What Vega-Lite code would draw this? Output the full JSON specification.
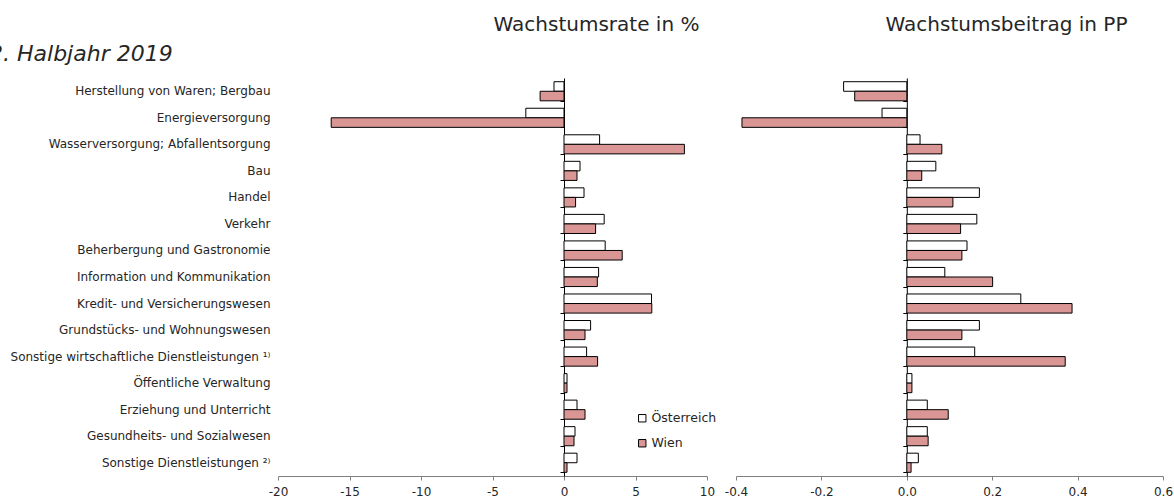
{
  "$schema": "https://vega.github.io/schema/vega-lite/v6.json",
  "padding": {"left": -11, "top": 15, "right": 0, "bottom": 0},
  "config": {
    "font": "DejaVu Sans",
    "view": {"stroke": null},
    "axis": {"grid": false, "labelColor": "#262626", "labelFont": "DejaVu Sans"}
  },
  "title": {
    "text": "2. Halbjahr 2019",
    "anchor": "start",
    "frame": "bounds",
    "fontSize": 22,
    "fontStyle": "italic",
    "fontWeight": "normal",
    "color": "#262626",
    "baseline": "alphabetic",
    "offset": 0,
    "dx": -21,
    "dy": 68
  },
  "datasets": {
    "gva": [
      {"sector": "Herstellung von Waren; Bergbau", "region": "Österreich", "rate": -0.70, "beitrag": -0.148},
      {"sector": "Herstellung von Waren; Bergbau", "region": "Wien", "rate": -1.67, "beitrag": -0.122},
      {"sector": "Energieversorgung", "region": "Österreich", "rate": -2.67, "beitrag": -0.058},
      {"sector": "Energieversorgung", "region": "Wien", "rate": -16.28, "beitrag": -0.386},
      {"sector": "Wasserversorgung; Abfallentsorgung", "region": "Österreich", "rate": 2.49, "beitrag": 0.031},
      {"sector": "Wasserversorgung; Abfallentsorgung", "region": "Wien", "rate": 8.42, "beitrag": 0.082},
      {"sector": "Bau", "region": "Österreich", "rate": 1.12, "beitrag": 0.068},
      {"sector": "Bau", "region": "Wien", "rate": 0.91, "beitrag": 0.035},
      {"sector": "Handel", "region": "Österreich", "rate": 1.40, "beitrag": 0.170},
      {"sector": "Handel", "region": "Wien", "rate": 0.81, "beitrag": 0.108},
      {"sector": "Verkehr", "region": "Österreich", "rate": 2.81, "beitrag": 0.164},
      {"sector": "Verkehr", "region": "Wien", "rate": 2.21, "beitrag": 0.126},
      {"sector": "Beherbergung und Gastronomie", "region": "Österreich", "rate": 2.88, "beitrag": 0.141},
      {"sector": "Beherbergung und Gastronomie", "region": "Wien", "rate": 4.07, "beitrag": 0.129},
      {"sector": "Information und Kommunikation", "region": "Österreich", "rate": 2.42, "beitrag": 0.089},
      {"sector": "Information und Kommunikation", "region": "Wien", "rate": 2.33, "beitrag": 0.201},
      {"sector": "Kredit- und Versicherungswesen", "region": "Österreich", "rate": 6.12, "beitrag": 0.267},
      {"sector": "Kredit- und Versicherungswesen", "region": "Wien", "rate": 6.14, "beitrag": 0.387},
      {"sector": "Grundstücks- und Wohnungswesen", "region": "Österreich", "rate": 1.86, "beitrag": 0.170},
      {"sector": "Grundstücks- und Wohnungswesen", "region": "Wien", "rate": 1.47, "beitrag": 0.129},
      {"sector": "Sonstige wirtschaftliche Dienstleistungen ¹⁾", "region": "Österreich", "rate": 1.58, "beitrag": 0.159},
      {"sector": "Sonstige wirtschaftliche Dienstleistungen ¹⁾", "region": "Wien", "rate": 2.35, "beitrag": 0.371},
      {"sector": "Öffentliche Verwaltung", "region": "Österreich", "rate": 0.21, "beitrag": 0.012},
      {"sector": "Öffentliche Verwaltung", "region": "Wien", "rate": 0.21, "beitrag": 0.012},
      {"sector": "Erziehung und Unterricht", "region": "Österreich", "rate": 0.91, "beitrag": 0.048},
      {"sector": "Erziehung und Unterricht", "region": "Wien", "rate": 1.47, "beitrag": 0.097},
      {"sector": "Gesundheits- und Sozialwesen", "region": "Österreich", "rate": 0.77, "beitrag": 0.048},
      {"sector": "Gesundheits- und Sozialwesen", "region": "Wien", "rate": 0.70, "beitrag": 0.050},
      {"sector": "Sonstige Dienstleistungen ²⁾", "region": "Österreich", "rate": 0.91, "beitrag": 0.027},
      {"sector": "Sonstige Dienstleistungen ²⁾", "region": "Wien", "rate": 0.21, "beitrag": 0.010}
    ]
  },
  "bounds": "flush",
  "spacing": 29,
  "hconcat": [
    {
      "width": 429,
      "height": 398,
      "data": {"name": "gva"},
      "title": {
        "text": "Wachstumsrate in %",
        "fontSize": 20,
        "fontWeight": "normal",
        "color": "#262626",
        "baseline": "alphabetic",
        "offset": 27,
        "dx": 104
      },
      "layer": [
        {
          "mark": {"type": "bar", "stroke": "black", "strokeWidth": 1},
          "encoding": {
            "y": {
              "field": "sector", "type": "nominal", "sort": null,
              "scale": {"paddingInner": 0.28, "paddingOuter": 0.14},
              "axis": {"orient": "left", "title": null, "ticks": false, "tickSize": 0, "domain": false, "labelPadding": 8, "labelFontSize": 12, "labelLimit": 0}
            },
            "yOffset": {"field": "region", "type": "nominal", "sort": ["Österreich", "Wien"], "scale": {"padding": 0}},
            "x": {
              "field": "rate", "type": "quantitative",
              "scale": {"domain": [-20, 10], "nice": false, "zero": false},
              "axis": {"title": null, "values": [-20, -15, -10, -5, 0, 5, 10], "labelFlush": false, "labelExpr": "replace(datum.label, '\u2212', '-')", "domainColor": "#808080", "tickColor": "#808080", "tickSize": 4, "labelFontSize": 12, "labelPadding": 6}
            },
            "fill": {
              "field": "region", "type": "nominal",
              "scale": {"domain": ["Österreich", "Wien"], "range": ["#ffffff", "#d99694"]},
              "legend": {
                "title": null, "orient": "none", "legendX": 358, "legendY": 334,
                "symbolType": "square", "symbolSize": 55, "symbolStrokeColor": "black", "symbolStrokeWidth": 1,
                "labelFontSize": 12.5, "labelColor": "#262626", "labelOffset": 3, "rowPadding": 12
              }
            }
          }
        },
        {
          "mark": {"type": "point", "opacity": 0},
          "encoding": {
            "y": {
              "field": "sector", "type": "nominal", "sort": null,
              "axis": {"orient": "left", "offset": -286, "title": null, "labels": false, "tickBand": "extent", "ticks": true, "tickSize": 4, "tickColor": "black", "domain": true, "domainColor": "black"}
            },
            "x": {"datum": 0, "type": "quantitative"}
          }
        }
      ],
      "resolve": {"axis": {"y": "independent"}}
    },
    {
      "width": 427,
      "height": 398,
      "data": {"name": "gva"},
      "title": {
        "text": "Wachstumsbeitrag in PP",
        "fontSize": 20,
        "fontWeight": "normal",
        "color": "#262626",
        "baseline": "alphabetic",
        "offset": 27,
        "dx": 57
      },
      "mark": {"type": "bar", "stroke": "black", "strokeWidth": 1},
      "encoding": {
        "y": {
          "field": "sector", "type": "nominal", "sort": null,
          "scale": {"paddingInner": 0.28, "paddingOuter": 0.14},
          "axis": {"orient": "left", "offset": -170.8, "title": null, "labels": false, "tickBand": "extent", "ticks": true, "tickSize": 4, "tickColor": "black", "domain": true, "domainColor": "black"}
        },
        "yOffset": {"field": "region", "type": "nominal", "sort": ["Österreich", "Wien"], "scale": {"padding": 0}},
        "x": {
          "field": "beitrag", "type": "quantitative",
          "scale": {"domain": [-0.4, 0.6], "nice": false, "zero": false},
          "axis": {"title": null, "values": [-0.4, -0.2, 0, 0.2, 0.4, 0.6], "format": ".1f", "labelFlush": false, "labelExpr": "replace(datum.label, '\u2212', '-')", "domainColor": "#808080", "tickColor": "#808080", "tickSize": 4, "labelFontSize": 12, "labelPadding": 6}
        },
        "fill": {
          "field": "region", "type": "nominal",
          "scale": {"domain": ["Österreich", "Wien"], "range": ["#ffffff", "#d99694"]},
          "legend": null
        }
      }
    }
  ]
}
